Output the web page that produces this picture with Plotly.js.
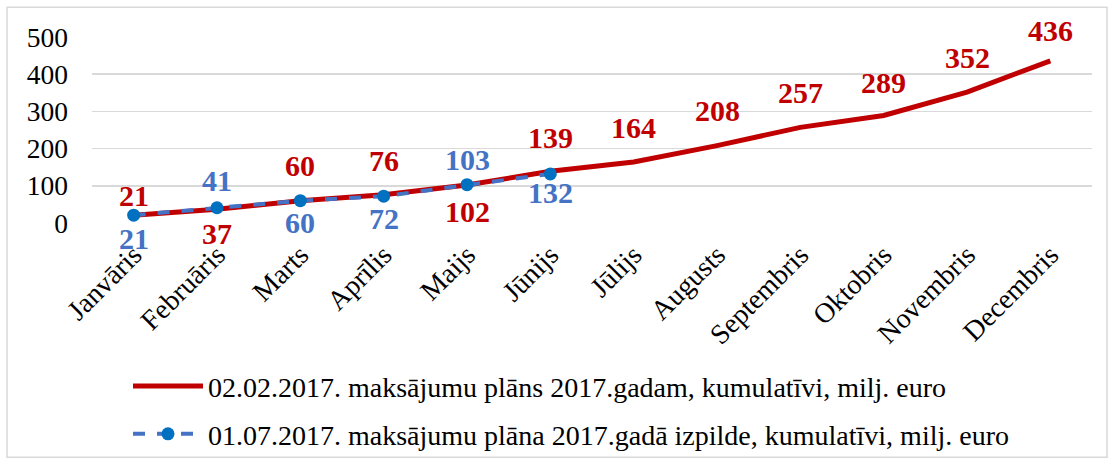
<!DOCTYPE html>
<html><head><meta charset="utf-8">
<script src="https://cdn.plot.ly/plotly-3.0.1.min.js"></script>
<style>html,body{margin:0;padding:0;background:#fff}#chart{width:1115px;height:472px}</style>
</head><body><div id="chart"></div>
<script>
const months = ["Janvāris","Februāris","Marts","Aprīlis","Maijs","Jūnijs","Jūlijs","Augusts","Septembris","Oktobris","Novembris","Decembris"];
const planValues = [21,37,60,76,102,139,164,208,257,289,352,436];
const actualValues = [21,41,60,72,103,132];
const planName = "02.02.2017. maksājumu plāns 2017.gadam, kumulatīvi, milj. euro";
const actualName = "01.07.2017. maksājumu plāna 2017.gadā izpilde, kumulatīvi, milj. euro";
const yTicks = [0,100,200,300,400,500];
// label offsets in px (positive = above the point, negative = below)
const planLabelShift = [20,-24,35,34,-26,34,34,35,35,33,35,30];
const actualLabelShift = [-23,27,-22,-22,25,-19];

const RED = "#C00000", BLUE = "#4472C4", MARK = "#0070C0";
const FONT = "Liberation Serif, Times New Roman, serif";

const traces = [
  {x: months, y: planValues, name: planName, type: "scatter", mode: "lines",
   line: {color: RED, width: 5}, legend: "legend"},
  {x: months.slice(0, actualValues.length), y: actualValues, name: actualName, type: "scatter", mode: "lines+markers",
   line: {color: BLUE, width: 4, dash: "dash"}, marker: {color: MARK, size: 13}, legend: "legend2"}
];

const annotations = [];
planValues.forEach((v, i) => annotations.push({x: months[i], y: v, xref: "x", yref: "y", text: String(v),
  showarrow: false, yshift: planLabelShift[i], font: {family: FONT, size: 30, color: RED, weight: "bold"}}));
actualValues.forEach((v, i) => annotations.push({x: months[i], y: v, xref: "x", yref: "y", text: String(v),
  showarrow: false, yshift: actualLabelShift[i], font: {family: FONT, size: 30, color: BLUE, weight: "bold"}}));

const layout = {
  width: 1115, height: 472,
  margin: {l: 92, r: 23, t: 37, b: 247},
  paper_bgcolor: "#fff", plot_bgcolor: "#fff",
  font: {family: FONT, color: "#000", size: 27},
  xaxis: {type: "category", tickangle: -45, showgrid: false, zeroline: false, showline: false,
          ticks: "", ticklabelstandoff: 9, tickfont: {family: FONT, size: 28}, range: [-0.5, 11.5]},
  yaxis: {range: [0, 500], tickvals: yTicks, showgrid: true, gridcolor: "#D9D9D9", gridwidth: 1.5,
          zeroline: false, showline: false, ticks: "", ticklabelstandoff: 23, tickfont: {family: FONT, size: 27.5}},
  showlegend: true,
  legend: {x: 0.036, y: -0.878, xanchor: "left", yanchor: "middle", font: {family: FONT, size: 28}, itemwidth: 70, bgcolor: "rgba(0,0,0,0)"},
  legend2: {x: 0.036, y: -1.135, xanchor: "left", yanchor: "middle", font: {family: FONT, size: 28}, itemwidth: 70, bgcolor: "rgba(0,0,0,0)"},
  annotations: annotations,
  shapes: [{type: "rect", xref: "paper", yref: "paper", x0: -0.085, x1: 1.015, y0: -1.26, y1: 1.16,
            line: {color: "#D9D9D9", width: 1.5}, layer: "below"}]
};
Plotly.newPlot("chart", traces, layout, {displayModeBar: false, staticPlot: true});
</script></body></html>
